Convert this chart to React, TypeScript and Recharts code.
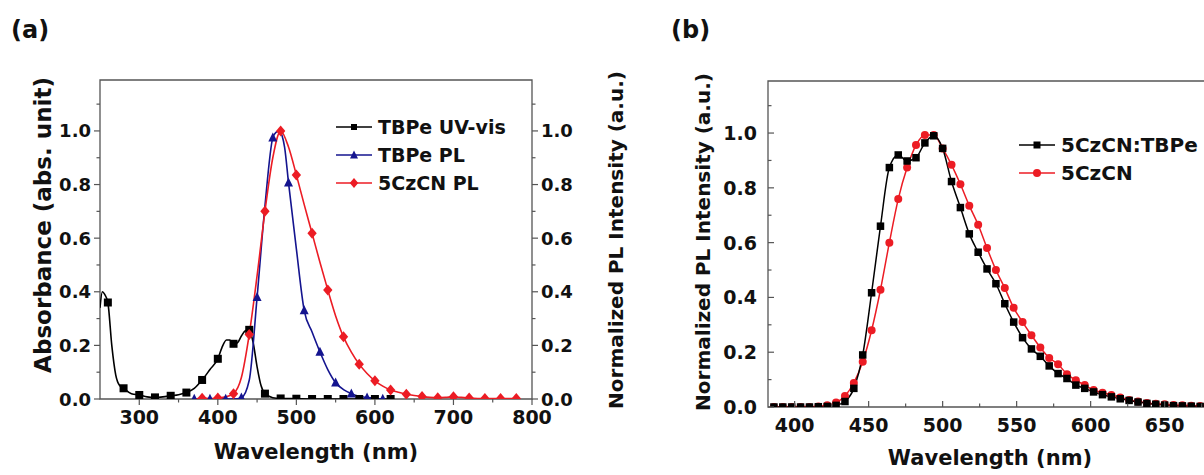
import React from 'react';
import { LineChart, Line, XAxis, YAxis, ReferenceArea } from 'recharts';

const FONT = '"DejaVu Sans", "Liberation Sans", Arial, sans-serif';
const BLACK = '#000000';
const BLUE = '#14148f';
const RED = '#ec1c24';
const FRAME = '#555555';
const TEXT = '#111111';

// (a) TBPe UV-vis absorption, left axis
const UV_WL = [250, 253, 256, 260, 265, 270, 275, 280, 290, 300, 310, 320, 330, 340, 350, 360, 370, 380, 390, 400, 405, 411, 415, 420, 425, 430, 435, 440, 445, 450, 455, 460, 470, 480, 500, 520, 540, 560, 580, 600, 620];
const UV_ABS = [0.34, 0.4, 0.39, 0.36, 0.2, 0.09, 0.05, 0.04, 0.02, 0.015, 0.008, 0.006, 0.008, 0.012, 0.016, 0.024, 0.04, 0.071, 0.11, 0.15, 0.19, 0.22, 0.22, 0.206, 0.21, 0.235, 0.255, 0.258, 0.21, 0.12, 0.05, 0.02, 0.005, 0.002, 0.001, 0, 0, 0, 0, 0, 0];

// (a) TBPe PL, right axis
const TBPE_WL = [370, 380, 390, 400, 410, 420, 430, 440, 450, 460, 470, 474, 478, 482, 485, 490, 500, 510, 520, 530, 540, 550, 560, 570, 580, 590, 600, 610];
const TBPE_PL = [0, 0, 0, 0, 0, 0, 0.005, 0.07, 0.38, 0.72, 0.975, 0.995, 1.0, 0.98, 0.94, 0.807, 0.56, 0.33, 0.25, 0.176, 0.11, 0.061, 0.035, 0.02, 0.01, 0.005, 0.002, 0];

// (a) 5CzCN PL, right axis
const CZ_WL = [370, 380, 390, 400, 410, 420, 430, 440, 450, 460, 470, 480, 490, 500, 510, 520, 530, 540, 550, 560, 570, 580, 590, 600, 610, 620, 630, 640, 650, 660, 670, 680, 690, 700, 710, 720, 740, 760, 780];
const CZ_PL = [0, 0.003, 0.002, 0.004, 0.008, 0.02, 0.08, 0.241, 0.46, 0.7, 0.9, 1.0, 0.94, 0.836, 0.725, 0.618, 0.51, 0.407, 0.31, 0.232, 0.175, 0.13, 0.095, 0.068, 0.048, 0.034, 0.025, 0.018, 0.013, 0.009, 0.006, 0.005, 0.006, 0.008, 0.006, 0.004, 0.002, 0.002, 0.002];

// (b) normalized PL
const B_WL = [386, 392, 398, 404, 410, 416, 422, 428, 434, 440, 446, 452, 458, 464, 470, 476, 482, 488, 494, 500, 506, 512, 518, 524, 530, 536, 542, 548, 554, 560, 566, 572, 578, 584, 590, 596, 602, 608, 614, 620, 626, 632, 638, 644, 650, 656, 662, 668, 674, 680];
const BLEND_PL = [0, 0, 0, 0, 0, 0.001, 0.002, 0.006, 0.02, 0.068, 0.19, 0.417, 0.66, 0.874, 0.92, 0.898, 0.91, 0.964, 0.99, 0.944, 0.823, 0.728, 0.632, 0.565, 0.504, 0.45, 0.377, 0.31, 0.253, 0.212, 0.185, 0.15, 0.122, 0.104, 0.08, 0.068, 0.055, 0.045, 0.037, 0.03, 0.024, 0.018, 0.013, 0.01, 0.007, 0.005, 0.004, 0.003, 0.002, 0.001];
const HOST_PL = [0, 0, 0, 0, 0, 0.002, 0.006, 0.016, 0.04, 0.088, 0.165, 0.28, 0.428, 0.6, 0.759, 0.874, 0.956, 0.993, 0.993, 0.944, 0.884, 0.813, 0.735, 0.665, 0.58, 0.5, 0.434, 0.362, 0.31, 0.262, 0.217, 0.179, 0.156, 0.12, 0.098, 0.08, 0.062, 0.052, 0.044, 0.035, 0.026, 0.02, 0.015, 0.012, 0.01, 0.007, 0.006, 0.005, 0.004, 0.003];

const Y_TICKS = [0, 0.1, 0.2, 0.3, 0.4, 0.5, 0.6, 0.7, 0.8, 0.9, 1.0, 1.1];
const A_X_TICKS = [300, 350, 400, 450, 500, 550, 600, 650, 700, 750, 800];
const B_X_TICKS = [400, 425, 450, 475, 500, 525, 550, 575, 600, 625, 650, 675];

const uvData = UV_WL.map((wl, i) => ({ wl, v: UV_ABS[i] }));
const tbpeData = TBPE_WL.map((wl, i) => ({ wl, v: TBPE_PL[i] }));
const czData = CZ_WL.map((wl, i) => ({ wl, v: CZ_PL[i] }));
const bData = B_WL.map((wl, i) => ({ wl, blend: BLEND_PL[i], host: HOST_PL[i] }));

type Shape = 'square' | 'triangle' | 'diamond' | 'circle';

const mark = (shape: Shape, cx: number, cy: number, s: number, fill: string) => {
  const h = s / 2;
  if (shape === 'square') return <rect x={cx - h} y={cy - h} width={s} height={s} fill={fill} />;
  if (shape === 'triangle')
    return <polygon points={`${cx},${cy - h * 1.15} ${cx - h},${cy + h * 0.85} ${cx + h},${cy + h * 0.85}`} fill={fill} />;
  if (shape === 'diamond')
    return <polygon points={`${cx},${cy - h} ${cx + h * 0.85},${cy} ${cx},${cy + h} ${cx - h * 0.85},${cy}`} fill={fill} />;
  return <circle cx={cx} cy={cy} r={h} fill={fill} />;
};

// markers only on the sampled points of each curve
const dots = (shape: Shape, s: number, fill: string, show: (wl: number) => boolean = () => true) => (p: any) => {
  const key = `dot-${p.index}`;
  if (p.cx == null || p.cy == null || !show(p.payload.wl)) return <g key={key} />;
  return <g key={key}>{mark(shape, p.cx, p.cy, s, fill)}</g>;
};

type Side = 'left' | 'right' | 'bottom';

// tickSize is 0, so x/y come in as label anchor = axis +/- gap
const makeTick = (side: Side, gap: number, inward: boolean, isMajor: (v: number) => boolean, fmt: (v: number) => string, size: number) =>
  (p: any) => {
    const v = p.payload.value;
    const major = isMajor(v);
    const len = major ? 6 : 3.5;
    const dir = inward ? 1 : -1;
    const tprops = { fontFamily: FONT, fontWeight: 'bold' as const, fontSize: size, fill: TEXT };
    if (side === 'bottom') {
      const ay = p.y - gap;
      return (
        <g>
          <line x1={p.x} x2={p.x} y1={ay} y2={ay - dir * len} stroke={FRAME} strokeWidth={1.2} />
          {major && <text x={p.x} y={p.y} dy="0.78em" textAnchor="middle" {...tprops}>{fmt(v)}</text>}
        </g>
      );
    }
    const ax = side === 'left' ? p.x + gap : p.x - gap;
    const x2 = side === 'left' ? ax + dir * len : ax - dir * len;
    return (
      <g>
        <line x1={ax} x2={x2} y1={p.y} y2={p.y} stroke={FRAME} strokeWidth={1.2} />
        {major && (
          <text x={p.x} y={p.y} dominantBaseline="central" textAnchor={side === 'left' ? 'end' : 'start'} {...tprops}>
            {fmt(v)}
          </text>
        )}
      </g>
    );
  };

const yMajor = (v: number) => Math.round(v * 10) % 2 === 0;
const yFmt = (v: number) => v.toFixed(1);
const hundred = (v: number) => v % 100 === 0;
const fifty = (v: number) => v % 50 === 0;
const plain = (v: number) => String(v);

const Title = ({ x, y, size, rotate, children }: { x: number; y: number; size: number; rotate?: boolean; children: React.ReactNode }) => (
  <text
    x={x}
    y={y}
    transform={rotate ? `rotate(-90 ${x} ${y})` : undefined}
    textAnchor="middle"
    dominantBaseline="central"
    fontFamily={FONT}
    fontWeight="bold"
    fontSize={size}
    fill={TEXT}
  >
    {children}
  </text>
);

const LegendRow = ({ x, y, color, shape, s, label, size }: { x: number; y: number; color: string; shape: Shape; s: number; label: string; size: number }) => (
  <g>
    <line x1={x} x2={x + 36} y1={y} y2={y} stroke={color} strokeWidth={1.6} />
    {mark(shape, x + 18, y, s, color)}
    <text x={x + 42} y={y} dominantBaseline="central" fontFamily={FONT} fontWeight="bold" fontSize={size} fill={TEXT}>
      {label}
    </text>
  </g>
);

const PanelA = () => (
  <LineChart width={640} height={475} margin={{ top: 80, right: 48, bottom: 46, left: 40 }}>
    <XAxis
      type="number"
      dataKey="wl"
      domain={[250, 800]}
      ticks={A_X_TICKS}
      interval={0}
      allowDataOverflow
      axisLine={false}
      tickLine={false}
      tickSize={0}
      tickMargin={10}
      height={30}
      tick={makeTick('bottom', 10, false, hundred, plain, 19)}
    />
    <YAxis
      yAxisId="abs"
      type="number"
      domain={[0, 1.19]}
      ticks={Y_TICKS}
      interval={0}
      allowDataOverflow
      axisLine={false}
      tickLine={false}
      tickSize={0}
      tickMargin={9}
      width={60}
      tick={makeTick('left', 9, false, yMajor, yFmt, 18)}
    />
    <YAxis
      yAxisId="pl"
      orientation="right"
      type="number"
      domain={[0, 1.19]}
      ticks={Y_TICKS}
      interval={0}
      allowDataOverflow
      axisLine={false}
      tickLine={false}
      tickSize={0}
      tickMargin={9}
      width={60}
      tick={makeTick('right', 9, false, yMajor, yFmt, 18)}
    />
    <ReferenceArea yAxisId="abs" x1={250} x2={800} y1={0} y2={1.19} fill="none" stroke={FRAME} strokeWidth={1.3} />
    <Line
      yAxisId="abs"
      data={uvData}
      dataKey="v"
      type="monotone"
      stroke={BLACK}
      strokeWidth={1.6}
      dot={dots('square', 8, BLACK, (wl) => wl >= 260 && (wl - 260) % 20 === 0)}
      activeDot={false}
      isAnimationActive={false}
    />
    <Line
      yAxisId="pl"
      data={tbpeData}
      dataKey="v"
      type="monotone"
      stroke={BLUE}
      strokeWidth={1.6}
      dot={dots('triangle', 9, BLUE, (wl) => (wl - 370) % 20 === 0)}
      activeDot={false}
      isAnimationActive={false}
    />
    <Line
      yAxisId="pl"
      data={czData}
      dataKey="v"
      type="monotone"
      stroke={RED}
      strokeWidth={1.6}
      dot={dots('diamond', 11, RED, (wl) => wl >= 380 && (wl - 380) % 20 === 0)}
      activeDot={false}
      isAnimationActive={false}
    />
  </LineChart>
);

const PanelB = () => (
  <LineChart width={582} height={475} data={bData} margin={{ top: 81, right: 10, bottom: 38, left: 68 }}>
    <XAxis
      type="number"
      dataKey="wl"
      domain={[382, 682]}
      ticks={B_X_TICKS}
      interval={0}
      allowDataOverflow
      axisLine={false}
      tickLine={false}
      tickSize={0}
      tickMargin={10}
      height={30}
      tick={makeTick('bottom', 10, true, fifty, plain, 19)}
    />
    <YAxis
      type="number"
      domain={[0, 1.19]}
      ticks={Y_TICKS}
      interval={0}
      allowDataOverflow
      axisLine={false}
      tickLine={false}
      tickSize={0}
      tickMargin={11}
      width={60}
      tick={makeTick('left', 11, true, yMajor, yFmt, 19)}
    />
    <ReferenceArea x1={382} x2={682} y1={0} y2={1.19} fill="none" stroke={FRAME} strokeWidth={1.3} />
    <Line dataKey="host" type="monotone" stroke={RED} strokeWidth={1.5} dot={dots('circle', 8, RED)} activeDot={false} isAnimationActive={false} />
    <Line dataKey="blend" type="monotone" stroke={BLACK} strokeWidth={1.5} dot={dots('square', 7.5, BLACK)} activeDot={false} isAnimationActive={false} />
  </LineChart>
);

export default function App() {
  return (
    <div style={{ position: 'fixed', left: 0, top: 0, width: 1204, height: 475, overflow: 'hidden', background: '#fff' }}>
      <div style={{ position: 'absolute', left: 0, top: 0 }}>
        <PanelA />
      </div>
      <div style={{ position: 'absolute', left: 640, top: 0 }}>
        <PanelB />
      </div>
      <svg width={1204} height={475} style={{ position: 'absolute', left: 0, top: 0, pointerEvents: 'none' }}>
        <text x={11} y={38} fontFamily={FONT} fontWeight="bold" fontSize={24} fill={TEXT}>(a)</text>
        <text x={671} y={38} fontFamily={FONT} fontWeight="bold" fontSize={24} fill={TEXT}>(b)</text>

        <Title x={316} y={452} size={21}>Wavelength (nm)</Title>
        <Title x={43} y={225} size={23} rotate>Absorbance (abs. unit)</Title>
        <Title x={616} y={240} size={20} rotate>Normalized PL Intensity (a.u.)</Title>
        <Title x={990} y={458} size={21}>Wavelength (nm)</Title>
        <Title x={703} y={242} size={20} rotate>Normalized PL Intensity (a.u.)</Title>

        <LegendRow x={336} y={127} color={BLACK} shape="square" s={6} label="TBPe UV-vis" size={19} />
        <LegendRow x={336} y={155} color={BLUE} shape="triangle" s={8} label="TBPe PL" size={19} />
        <LegendRow x={336} y={183} color={RED} shape="diamond" s={10} label="5CzCN PL" size={19} />

        <LegendRow x={1019} y={145} color={BLACK} shape="square" s={7} label="5CzCN:TBPe" size={20} />
        <LegendRow x={1019} y={173} color={RED} shape="circle" s={8} label="5CzCN" size={20} />
      </svg>
    </div>
  );
}
